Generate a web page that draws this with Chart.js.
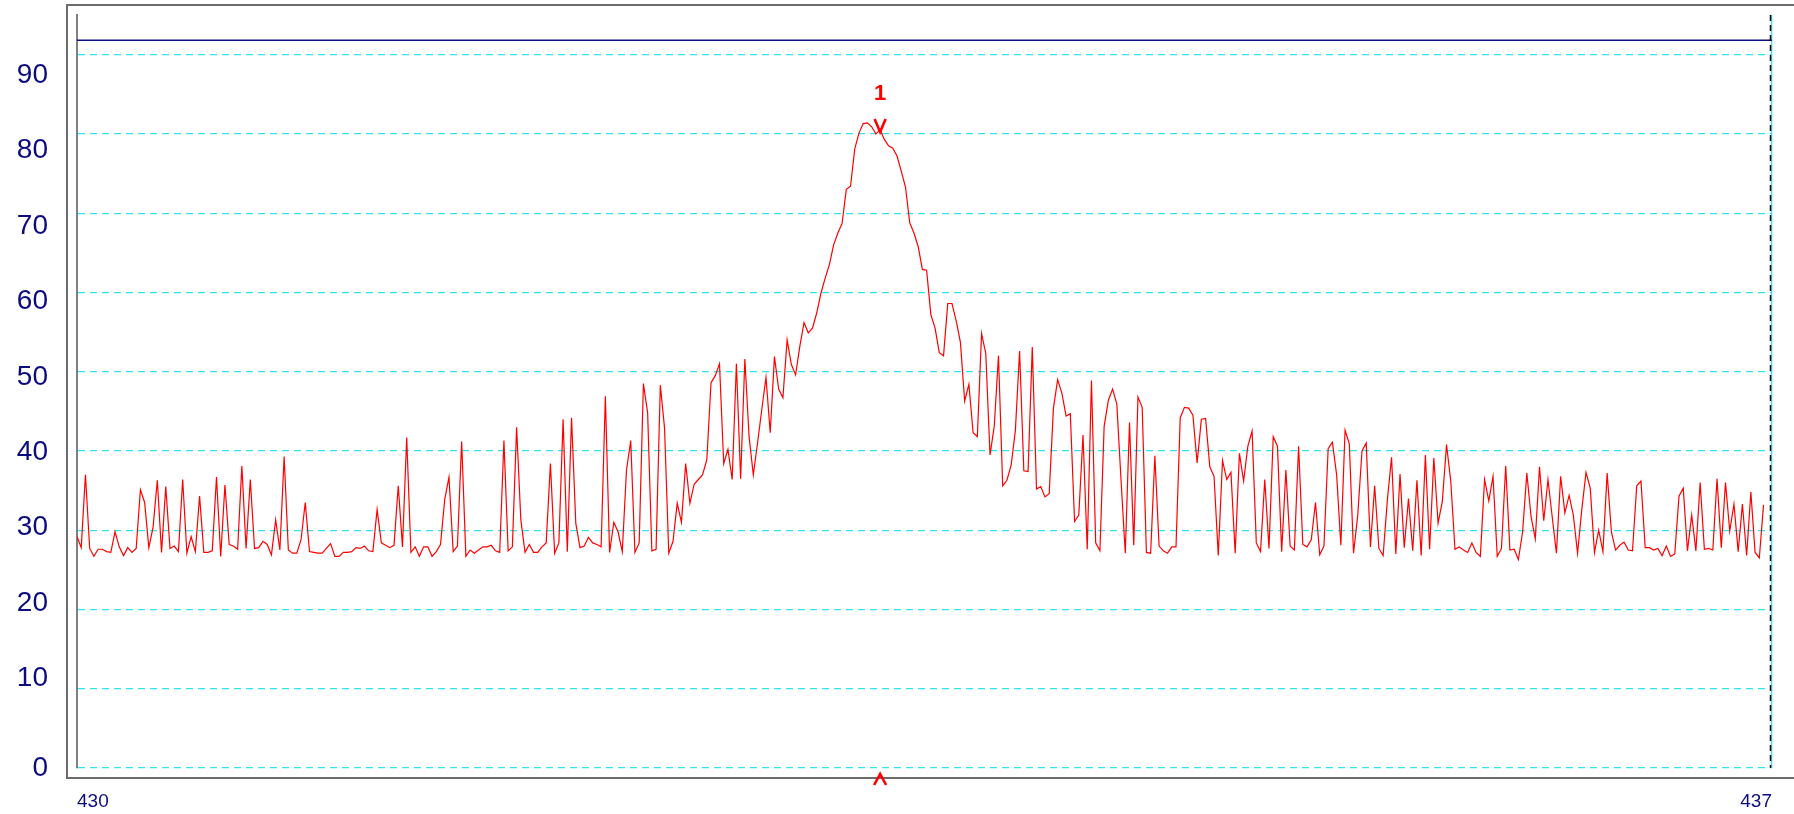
<!DOCTYPE html>
<html>
<head>
<meta charset="utf-8">
<script src="https://cdn.jsdelivr.net/npm/chart.js@4.4.0/dist/chart.umd.min.js"></script>
<style>
  html, body { margin: 0; padding: 0; background: #ffffff; }
  #wrap { width: 1794px; height: 814px; position: relative; }
</style>
</head>
<body>
<div id="wrap"><canvas id="spectrum"></canvas></div>
<script>
// sweep 430 .. 437, trace points
const freqStart = 430;
const freqStop = 437;
const sweepSteps = 401;

const level = [
  29.2, 27.8, 37.0, 27.7, 26.7, 27.6, 27.6, 27.3, 27.2, 29.8,
  27.9, 26.8, 27.8, 27.2, 27.7, 35.1, 33.5, 27.8, 30.4, 36.3,
  27.2, 35.5, 27.7, 28.0, 27.3, 36.4, 27.1, 29.2, 27.3, 34.3,
  27.2, 27.2, 27.4, 36.7, 26.7, 35.7, 28.2, 28.0, 27.6, 38.1,
  27.7, 36.4, 27.7, 27.8, 28.6, 28.2, 26.9, 31.3, 27.5, 39.3,
  27.5, 27.1, 27.1, 28.8, 33.5, 27.3, 27.2, 27.1, 27.1, 27.7,
  28.3, 26.7, 26.7, 27.2, 27.2, 27.3, 27.8, 27.7, 28.0, 27.4,
  27.3, 32.6, 28.4, 28.1, 27.8, 28.1, 35.6, 27.9, 41.7, 27.2,
  27.9, 26.7, 27.9, 27.9, 26.7, 27.3, 28.2, 33.9, 36.7, 27.3,
  28.0, 41.2, 26.7, 27.5, 27.1, 27.5, 27.9, 27.9, 28.1, 27.4,
  27.2, 41.3, 27.4, 27.9, 43.0, 31.3, 27.2, 28.2, 27.2, 27.2,
  27.9, 28.4, 38.4, 27.1, 28.4, 44.0, 27.3, 44.2, 30.9, 27.8,
  28.0, 29.1, 28.4, 28.2, 27.9, 46.9, 27.2, 31.0, 29.8, 27.3,
  37.6, 41.3, 27.2, 28.4, 48.5, 44.8, 27.4, 27.6, 48.3, 42.9,
  27.1, 28.6, 33.4, 31.0, 38.4, 33.4, 35.8, 36.4, 37.0, 38.9,
  48.6, 49.5, 51.0, 38.4, 40.2, 36.4, 51.0, 36.5, 51.6, 41.8,
  37.0, 41.0, 45.2, 49.3, 42.3, 51.9, 47.8, 46.7, 54.0, 50.9,
  49.6, 53.2, 56.2, 54.9, 55.5, 57.4, 59.9, 61.8, 63.5, 66.0,
  67.5, 68.7, 73.0, 73.4, 78.1, 80.1, 81.3, 81.4, 80.9, 80.0,
  80.5, 79.3, 78.5, 78.2, 77.2, 75.3, 73.3, 68.8, 67.5, 65.8,
  62.9, 62.8, 57.2, 55.5, 52.4, 52.0, 58.6, 58.6, 56.4, 53.7,
  46.3, 48.4, 42.3, 41.8, 54.8, 52.3, 39.5, 43.1, 52.0, 35.6,
  36.3, 38.2, 42.6, 52.6, 37.5, 37.4, 53.1, 35.2, 35.5, 34.2,
  34.6, 45.4, 49.0, 47.3, 44.4, 44.7, 31.1, 31.9, 42.0, 27.6,
  48.9, 28.4, 27.4, 43.1, 46.4, 47.8, 45.9, 36.3, 27.1, 43.6,
  28.1, 46.8, 45.5, 27.2, 27.1, 39.4, 28.0, 27.4, 27.1, 27.9,
  27.9, 44.2, 45.5, 45.4, 44.5, 38.5, 44.0, 44.1, 38.0, 36.8,
  26.8, 38.8, 36.4, 37.3, 27.1, 39.7, 36.2, 40.6, 42.5, 28.4,
  27.3, 36.4, 27.7, 41.8, 40.6, 27.3, 37.6, 28.0, 27.5, 40.6,
  28.2, 27.9, 28.8, 33.5, 26.9, 28.0, 40.3, 41.1, 37.0, 28.1,
  42.6, 40.9, 27.1, 31.9, 40.0, 41.0, 27.9, 35.6, 27.7, 26.8,
  33.8, 39.2, 27.0, 37.1, 27.8, 34.0, 27.4, 36.3, 26.8, 39.5,
  27.6, 39.1, 30.9, 33.6, 40.8, 36.2, 27.6, 27.9, 27.5, 27.2,
  28.4, 27.2, 26.7, 36.4, 33.7, 36.8, 26.7, 27.7, 38.1, 27.5,
  27.6, 26.3, 29.8, 37.2, 31.7, 28.9, 38.0, 31.2, 36.4, 31.7,
  27.1, 36.8, 32.2, 34.4, 31.9, 27.1, 32.6, 37.3, 35.3, 27.2,
  30.0, 27.3, 37.2, 29.8, 27.5, 28.1, 28.5, 27.5, 27.4, 35.6,
  36.2, 27.8, 27.8, 27.5, 27.7, 26.8, 28.0, 26.7, 27.0, 34.3,
  35.3, 27.4, 31.9, 27.4, 36.0, 27.6, 27.7, 27.5, 36.5, 27.8,
  36.0, 29.9, 33.3, 27.3, 33.3, 26.8, 34.8, 27.2, 26.5, 33.2
];

const refLevel = 91.8;
const markerIndex = [190];
const markerLabels = ['1'];

const xTickLabels = ['430', '437'];
const yTickLabels = ['0', '10', '20', '30', '40', '50', '60', '70', '80', '90'];

const navy = '#0c0c80';
const cyan = '#2ce6f2';
const red = '#ff0000';

const freqAt = i => freqStart + i * (freqStop - freqStart) / sweepSteps;
const trace = level.map((v, i) => ({ x: freqAt(i), y: v }));

// frame around the plot, the right edge line and the marker glyphs
const decorations = {
  id: 'decorations',
  afterDraw(chart) {
    const { ctx, chartArea: a, scales } = chart;
    ctx.save();
    ctx.strokeStyle = '#6c6c6c';
    ctx.lineWidth = 2;
    ctx.beginPath();
    ctx.moveTo(chart.width, a.top - 10);
    ctx.lineTo(a.left - 10, a.top - 10);
    ctx.lineTo(a.left - 10, a.bottom + 10);
    ctx.lineTo(chart.width, a.bottom + 10);
    ctx.stroke();

    ctx.strokeStyle = '#000000';
    ctx.lineWidth = 1.5;
    ctx.setLineDash([6, 4]);
    ctx.beginPath();
    ctx.moveTo(a.right - 1.5, a.top);
    ctx.lineTo(a.right - 1.5, a.bottom);
    ctx.stroke();
    ctx.setLineDash([]);

    ctx.strokeStyle = red;
    ctx.fillStyle = red;
    ctx.lineWidth = 2.6;
    ctx.font = 'bold 22px "Liberation Sans", Arial, sans-serif';
    ctx.textAlign = 'center';
    ctx.textBaseline = 'middle';
    markerIndex.forEach((idx, k) => {
      const x = scales.x.getPixelForValue(freqAt(idx));
      const tip = scales.y.getPixelForValue(level[idx]) + 2;
      ctx.beginPath();
      ctx.moveTo(x - 5.5, tip - 13);
      ctx.lineTo(x, tip);
      ctx.lineTo(x + 5.5, tip - 13);
      ctx.stroke();
      ctx.fillText(markerLabels[k], x, tip - 38);
      ctx.beginPath();
      ctx.moveTo(x - 6, a.bottom + 17);
      ctx.lineTo(x, a.bottom + 6);
      ctx.lineTo(x + 6, a.bottom + 17);
      ctx.stroke();
    });
    ctx.restore();
  }
};

new Chart(document.getElementById('spectrum'), {
  type: 'line',
  data: {
    datasets: [
      {
        data: trace,
        borderColor: red,
        borderWidth: 1.2,
        pointRadius: 0,
        tension: 0,
        yAxisID: 'y'
      },
      {
        data: [{ x: freqStart, y: refLevel }, { x: freqStop, y: refLevel }],
        borderColor: navy,
        borderWidth: 1.5,
        pointRadius: 0,
        yAxisID: 'y'
      }
    ]
  },
  options: {
    responsive: true,
    maintainAspectRatio: false,
    animation: false,
    layout: { padding: { top: 15, right: 2, left: 0, bottom: 0 } },
    plugins: { legend: { display: false }, tooltip: { enabled: false } },
    scales: {
      x: {
        type: 'linear',
        min: freqStart,
        max: freqStop,
        afterBuildTicks: axis => { axis.ticks = [{ value: freqStart }, { value: freqStop }]; },
        afterFit: axis => { axis.height = 46; },
        ticks: {
          align: 'inner',
          padding: 22,
          color: navy,
          font: { family: '"Liberation Sans", Arial, sans-serif', size: 19 },
          maxRotation: 0,
          callback: (v, i) => xTickLabels[i]
        },
        grid: {
          drawTicks: false,
          lineWidth: 1.3,
          color: c => (c.index === 1 ? cyan : 'transparent')
        },
        border: { display: false }
      },
      y: {
        type: 'linear',
        position: 'left',
        weight: 0,
        min: 0,
        max: 95,
        afterBuildTicks: axis => { axis.ticks = yTickLabels.map(t => ({ value: Number(t) })); },
        afterFit: axis => { axis.width = 29; },
        ticks: { display: false, padding: 0 },
        grid: { drawTicks: false, color: cyan, lineWidth: 1.3 },
        border: { display: true, color: '#808080', width: 2, dash: [7, 5] }
      },
      yl: {
        type: 'linear',
        position: 'left',
        weight: 1,
        min: -1.9,
        max: 98.0,
        afterBuildTicks: axis => {
          axis.ticks = yTickLabels.map((t, k) => ({ value: k === 0 ? axis.min : Number(t) }));
        },
        afterFit: axis => { axis.width = 48; },
        ticks: {
          padding: 0,
          color: navy,
          autoSkip: false,
          font: { family: '"Liberation Sans", Arial, sans-serif', size: 28, lineHeight: 1 },
          callback: (v, i) => yTickLabels[i]
        },
        grid: { display: false, drawTicks: false },
        border: { display: false }
      }
    }
  },
  plugins: [decorations]
});
</script>
</body>
</html>
